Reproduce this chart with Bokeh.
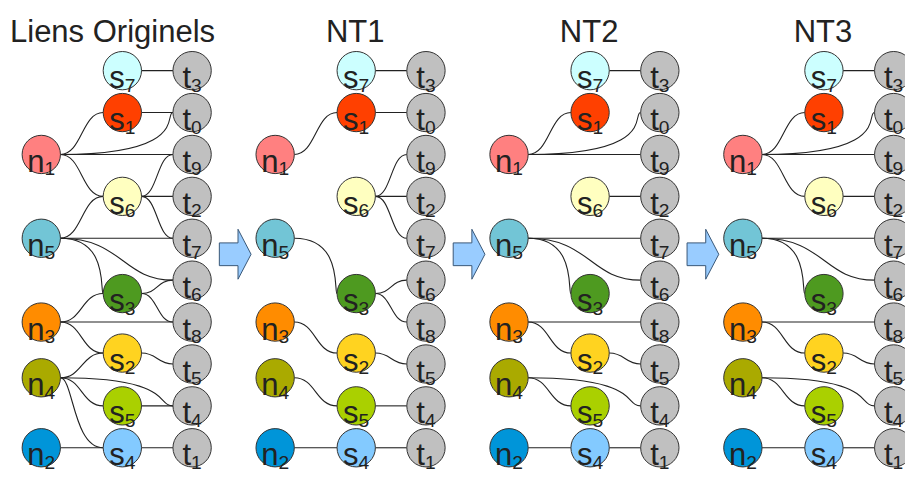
from bokeh.plotting import figure
from bokeh.models import Range1d
from bokeh.embed import file_html
from bokeh.resources import INLINE
from bokeh.core.properties import value

# ---------------- data ----------------
titles = ["Liens Originels", "NT1", "NT2", "NT3"]

node_names = ["n1", "n5", "n3", "n4", "n2",
              "s7", "s1", "s6", "s3", "s2", "s5", "s4",
              "t3", "t0", "t9", "t2", "t7", "t6", "t8", "t5", "t4", "t1"]
node_cols = [0, 0, 0, 0, 0,
             1, 1, 1, 1, 1, 1, 1,
             2, 2, 2, 2, 2, 2, 2, 2, 2, 2]
node_rows = [2, 4, 6, 7.33, 9,
             0, 1, 3, 5.32, 6.74, 8, 9,
             0, 1, 2, 3, 4, 5, 6, 7, 8, 9]
node_colors = ["#ff8080", "#72c5d6", "#ff8c00", "#aaaa00", "#0095d9",
               "#ccffff", "#ff4000", "#ffffc0", "#4e9a20", "#ffd320", "#aad000", "#83caff",
               "#c0c0c0", "#c0c0c0", "#c0c0c0", "#c0c0c0", "#c0c0c0",
               "#c0c0c0", "#c0c0c0", "#c0c0c0", "#c0c0c0", "#c0c0c0"]

# edges per panel: (source, target, curve shape)
edges_orig = [("s7", "t3", "s"), ("s1", "t0", "s"), ("n1", "s1", "s"), ("n1", "t0", "late"),
              ("n1", "t9", "s"), ("n1", "s6", "s"), ("s6", "t9", "s"), ("s6", "t2", "s"),
              ("s6", "t7", "s"), ("n5", "s6", "s"), ("n5", "t7", "s"), ("n5", "s3", "late"),
              ("n5", "t6", "wide"), ("s3", "t6", "s"), ("s3", "t8", "s"), ("n3", "s3", "s"),
              ("n3", "t8", "s"), ("n3", "s2", "s"), ("s2", "t5", "s"), ("n4", "s2", "s"),
              ("n4", "t4", "late2"), ("n4", "s5", "s"), ("s5", "t4", "s"), ("n4", "s4", "early"),
              ("n2", "s4", "s"), ("s4", "t1", "s")]
edges_nt1 = [("s7", "t3", "s"), ("s1", "t0", "s"), ("n1", "s1", "s"), ("s6", "t9", "s"),
             ("s6", "t2", "s"), ("s6", "t7", "s"), ("n5", "s3", "late"), ("s3", "t6", "s"),
             ("s3", "t8", "s"), ("n3", "s2", "s"), ("s2", "t5", "s"), ("n4", "s5", "s"),
             ("s5", "t4", "s"), ("n2", "s4", "s"), ("s4", "t1", "s")]
edges_nt2 = [("s7", "t3", "s"), ("n1", "s1", "s"), ("n1", "t0", "late"), ("n1", "t9", "s"),
             ("s6", "t2", "s"), ("n5", "t7", "s"), ("n5", "s3", "late"), ("n5", "t6", "wide"),
             ("n3", "t8", "s"), ("n3", "s2", "s"), ("s2", "t5", "s"), ("n4", "t4", "late2"),
             ("n4", "s5", "s"), ("n2", "s4", "s"), ("s4", "t1", "s")]
edges_nt3 = edges_nt2 + [("n1", "s6", "s")]
panel_edges = [edges_orig, edges_nt1, edges_nt2, edges_nt3]

# ---------------- layout / style ----------------
W, H = 905, 474
COL_X = [41.5, 124.0, 195.0]
ROW_Y0, ROW_DY = 76.0, 44.2
PANEL_DX = 238.0
R = 19.5
SHAPES = {"s": (0.5, 0.5), "late": (1.15, 0.08), "late2": (1.0, 0.15),
          "wide": (0.55, 0.45), "early": (0.3, 0.7)}
FONT = value("Liberation Sans")
F_BIG = 31.0
F_SUB = 19.2

p = figure(width=W, height=H, output_backend="svg", toolbar_location=None,
           x_range=Range1d(0, 921), y_range=Range1d(502, 2),
           min_border=0, background_fill_color="white")
p.axis.visible = False
p.xgrid.visible = False
p.ygrid.visible = False
p.outline_line_color = None

pos = {}
for nm, c, r in zip(node_names, node_cols, node_rows):
    pos[nm] = (COL_X[c], ROW_Y0 + ROW_DY * r)

# edges
ex0, ey0, ex1, ey1, ecx0, ecy0, ecx1, ecy1 = [], [], [], [], [], [], [], []
for k, edges in enumerate(panel_edges):
    off = PANEL_DX * k
    for a, b, shp in edges:
        xa, ya = pos[a]
        xb, yb = pos[b]
        x0, x1 = xa + R + off, xb - R + off
        dx = x1 - x0
        fa, fb = SHAPES[shp]
        ex0.append(x0); ey0.append(ya); ex1.append(x1); ey1.append(yb)
        ecx0.append(x0 + fa * dx); ecy0.append(ya)
        ecx1.append(x1 - fb * dx); ecy1.append(yb)
p.bezier(x0=ex0, y0=ey0, x1=ex1, y1=ey1, cx0=ecx0, cy0=ecy0, cx1=ecx1, cy1=ecy1,
         line_color="#222222", line_width=1.1)

# arrows between panels
ax_base = [222.7, 241.7, 241.7, 255.0, 241.7, 241.7, 222.7]
ay_base = [257.7, 257.7, 243.3, 269.7, 296.0, 281.7, 281.7]
axs, ays = [], []
for k in range(3):
    axs.append([x + PANEL_DX * k for x in ax_base])
    ays.append(list(ay_base))
p.patches(xs=axs, ys=ays, fill_color="#99ccff", line_color="#3a5878", line_width=1)

# nodes
cx, cy, cc, lx, ly, lt, dxs, dys, dt = [], [], [], [], [], [], [], [], []
adv = {"n": 0.556, "s": 0.5, "t": 0.278}
for k in range(4):
    off = PANEL_DX * k
    for nm, col in zip(node_names, node_colors):
        x, y = pos[nm]
        cx.append(x + off); cy.append(y); cc.append(col)
        lw = adv[nm[0]] * 32
        dw = 0.556 * 20 * len(nm[1:])
        split = x + off + (lw - dw) / 2.0
        lx.append(split); ly.append(y + 7.5); lt.append(nm[0])
        dxs.append(split); dys.append(y + 15.3); dt.append(nm[1:])
p.circle(x=cx, y=cy, radius=R, fill_color=cc, line_color="#333333", line_width=1)
p.text(x=lx, y=ly, text=lt, text_font=FONT, text_font_size=f"{F_BIG:.1f}px",
       text_color="#222222", text_align="right", text_baseline="alphabetic")
p.text(x=dxs, y=dys, text=dt, text_font=FONT, text_font_size=f"{F_SUB:.1f}px",
       text_color="#222222", text_align="left", text_baseline="alphabetic")

# titles
tx = [114.0] + [COL_X[1] - 1 + PANEL_DX * k for k in range(1, 4)]
p.text(x=tx, y=[35] * 4, text=titles, text_font=FONT, text_font_size=f"{F_BIG:.1f}px",
       text_color="#222222", text_align="center", text_baseline="alphabetic")

open("out.html", "w").write(file_html(p, INLINE))
